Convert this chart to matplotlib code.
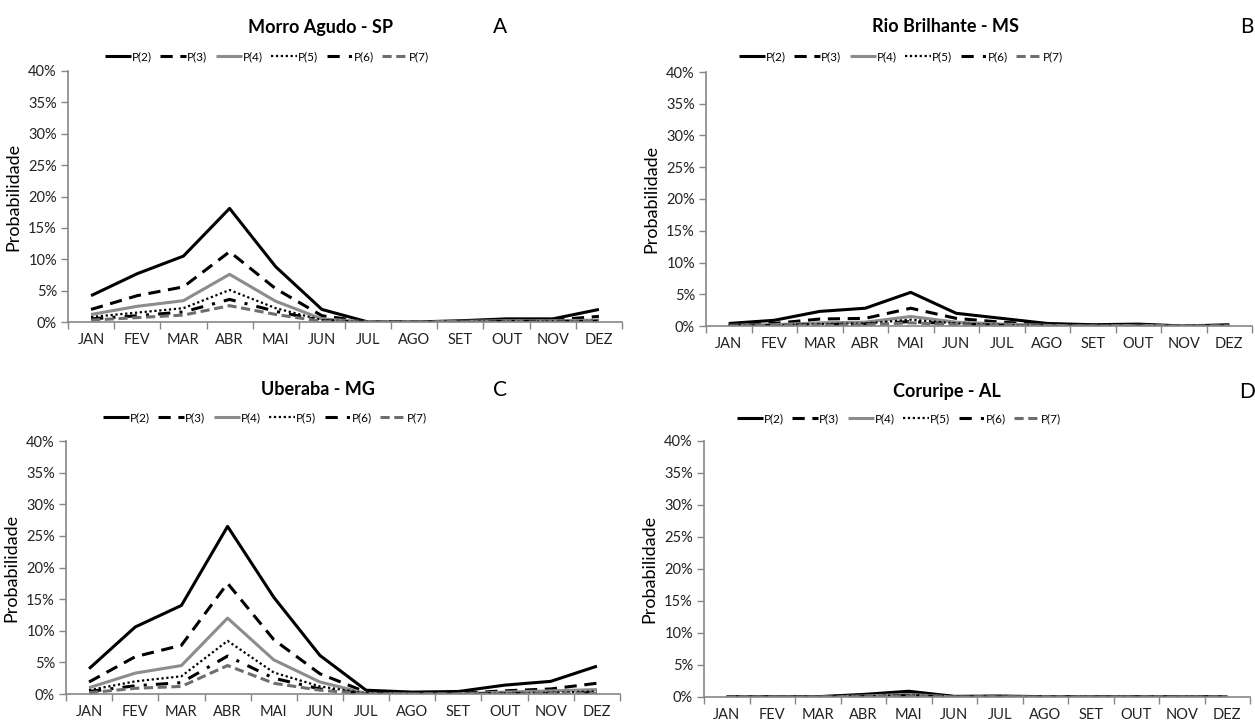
import numpy as np
import matplotlib
matplotlib.use('Agg')
import matplotlib.pyplot as plt
from matplotlib.ticker import FixedLocator, PercentFormatter

plt.rcParams['font.family'] = ['Lato', 'DejaVu Sans']

meses = ['JAN', 'FEV', 'MAR', 'ABR', 'MAI', 'JUN', 'JUL', 'AGO', 'SET', 'OUT', 'NOV', 'DEZ']
series_names = ['P(2)', 'P(3)', 'P(4)', 'P(5)', 'P(6)', 'P(7)']

# probabilities in %
morro_agudo = [
    [4.2, 7.7, 10.5, 18.1, 8.8, 2.0, 0.0, 0.0, 0.2, 0.5, 0.5, 2.0],
    [2.0, 4.2, 5.6, 11.2, 5.3, 1.0, 0.0, 0.0, 0.1, 0.3, 0.3, 0.9],
    [1.2, 2.5, 3.4, 7.6, 3.3, 0.5, 0.0, 0.0, 0.1, 0.2, 0.2, 0.3],
    [0.8, 1.5, 2.2, 5.1, 2.2, 0.3, 0.0, 0.0, 0.0, 0.1, 0.1, 0.2],
    [0.5, 1.0, 1.6, 3.6, 1.7, 0.2, 0.0, 0.0, 0.0, 0.1, 0.1, 0.1],
    [0.3, 0.7, 1.1, 2.6, 1.2, 0.1, 0.0, 0.0, 0.0, 0.0, 0.0, 0.1],
]
rio_brilhante = [
    [0.4, 0.9, 2.3, 2.8, 5.3, 2.0, 1.2, 0.4, 0.2, 0.3, 0.0, 0.2],
    [0.2, 0.4, 1.1, 1.2, 2.8, 1.2, 0.6, 0.2, 0.1, 0.1, 0.0, 0.1],
    [0.1, 0.2, 0.5, 0.6, 1.5, 0.6, 0.3, 0.1, 0.0, 0.1, 0.0, 0.0],
    [0.1, 0.1, 0.3, 0.4, 1.0, 0.4, 0.2, 0.0, 0.0, 0.0, 0.0, 0.0],
    [0.0, 0.1, 0.2, 0.3, 0.7, 0.3, 0.1, 0.0, 0.0, 0.0, 0.0, 0.0],
    [0.0, 0.1, 0.1, 0.2, 0.5, 0.2, 0.1, 0.0, 0.0, 0.0, 0.0, 0.0],
]
uberaba = [
    [4.0, 10.6, 14.0, 26.5, 15.3, 6.1, 0.6, 0.3, 0.4, 1.4, 2.0, 4.4],
    [1.9, 5.9, 7.7, 17.5, 8.6, 3.2, 0.3, 0.1, 0.1, 0.5, 0.8, 1.7],
    [1.0, 3.3, 4.5, 12.0, 5.4, 1.9, 0.1, 0.0, 0.0, 0.3, 0.5, 0.7],
    [0.6, 2.0, 2.8, 8.4, 3.4, 1.2, 0.1, 0.0, 0.0, 0.1, 0.2, 0.4],
    [0.4, 1.3, 1.8, 6.0, 2.5, 0.8, 0.0, 0.0, 0.0, 0.1, 0.1, 0.2],
    [0.2, 0.9, 1.2, 4.5, 1.7, 0.6, 0.0, 0.0, 0.0, 0.0, 0.1, 0.1],
]
coruripe = [
    [0.05, 0.05, 0.05, 0.4, 0.9, 0.1, 0.15, 0.05, 0.05, 0.05, 0.05, 0.05],
    [0.0, 0.0, 0.0, 0.25, 0.6, 0.05, 0.1, 0.0, 0.0, 0.0, 0.0, 0.0],
    [0.0, 0.0, 0.0, 0.15, 0.4, 0.0, 0.05, 0.0, 0.0, 0.0, 0.0, 0.0],
    [0.0, 0.0, 0.0, 0.1, 0.3, 0.0, 0.0, 0.0, 0.0, 0.0, 0.0, 0.0],
    [0.0, 0.0, 0.0, 0.05, 0.2, 0.0, 0.0, 0.0, 0.0, 0.0, 0.0, 0.0],
    [0.0, 0.0, 0.0, 0.05, 0.15, 0.0, 0.0, 0.0, 0.0, 0.0, 0.0, 0.0],
]

styles = [
    dict(color='black', lw=2.2, ls='-'),
    dict(color='black', lw=2.2, ls=(0, (4, 2.5))),
    dict(color='#8c8c8c', lw=2.2, ls='-'),
    dict(color='black', lw=1.6, ls=(0, (1, 1.2))),
    dict(color='black', lw=2.2, ls=(0, (4, 3, 1, 3))),
    dict(color='#6e6e6e', lw=2.2, ls=(0, (3, 1.5))),
]

W, H = 1255, 722
fig = plt.figure(figsize=(12.55, 7.22), dpi=100)

# (data, title, letter, axes box in px [left, top, right, bottom], title x, title y, letter x, legend y)
panels = [
    (morro_agudo, 'Morro Agudo - SP', 'A', (68, 71, 622, 322), 320, 27, 500, 57),
    (rio_brilhante, 'Rio Brilhante - MS', 'B', (706, 72, 1252, 326), 946, 27, 1247, 57),
    (uberaba, 'Uberaba - MG', 'C', (66, 441, 620, 694), 318, 390, 500, 418),
    (coruripe, 'Coruripe - AL', 'D', (704, 441, 1250, 697), 947, 392, 1247, 419),
]

x = np.arange(len(meses))
for data, title, letter, box, tx, ty, lx, legy in panels:
    l, t, r, b = box
    ax = fig.add_axes([l / W, 1 - b / H, (r - l) / W, (b - t) / H])
    for vals, name, st in zip(data, series_names, styles):
        ax.plot(x, vals, label=name, solid_capstyle='butt', dash_capstyle='butt', **st)
    ax.set_xlim(-0.5, 11.5)
    ax.set_ylim(0, 40)
    ax.set_yticks(np.arange(0, 41, 5))
    ax.yaxis.set_major_formatter(PercentFormatter(decimals=0))
    ax.set_xticks(x)
    ax.set_xticklabels(meses)
    ax.xaxis.set_minor_locator(FixedLocator(np.arange(-0.5, 12, 1)))
    ax.tick_params(axis='x', which='major', length=0, pad=8, labelsize=10.5, colors='#222222')
    ax.tick_params(axis='x', which='minor', length=5, color='#868686', width=1)
    ax.tick_params(axis='y', length=5, color='#868686', width=1, labelsize=10.5,
                   labelcolor='#222222', pad=3)
    for s in ['top', 'right']:
        ax.spines[s].set_visible(False)
    for s in ['left', 'bottom']:
        ax.spines[s].set_color('#868686')
        ax.spines[s].set_linewidth(1.2)
    ax.set_ylabel('Probabilidade', fontsize=13, labelpad=5)
    ax.legend(loc='center', bbox_to_anchor=(((l + r) / 2 - 78) / W, 1 - legy / H),
              bbox_transform=fig.transFigure, ncol=6, frameon=False, fontsize=8.5,
              handlelength=2.2, handletextpad=0.1, columnspacing=0.7, borderaxespad=0)
    fig.text(tx / W, 1 - ty / H, title, ha='center', va='center', fontsize=13, fontweight='bold')
    fig.text(lx / W, 1 - ty / H, letter, ha='center', va='center', fontsize=15)

plt.savefig('out.png', dpi=100)
plt.close(fig)
